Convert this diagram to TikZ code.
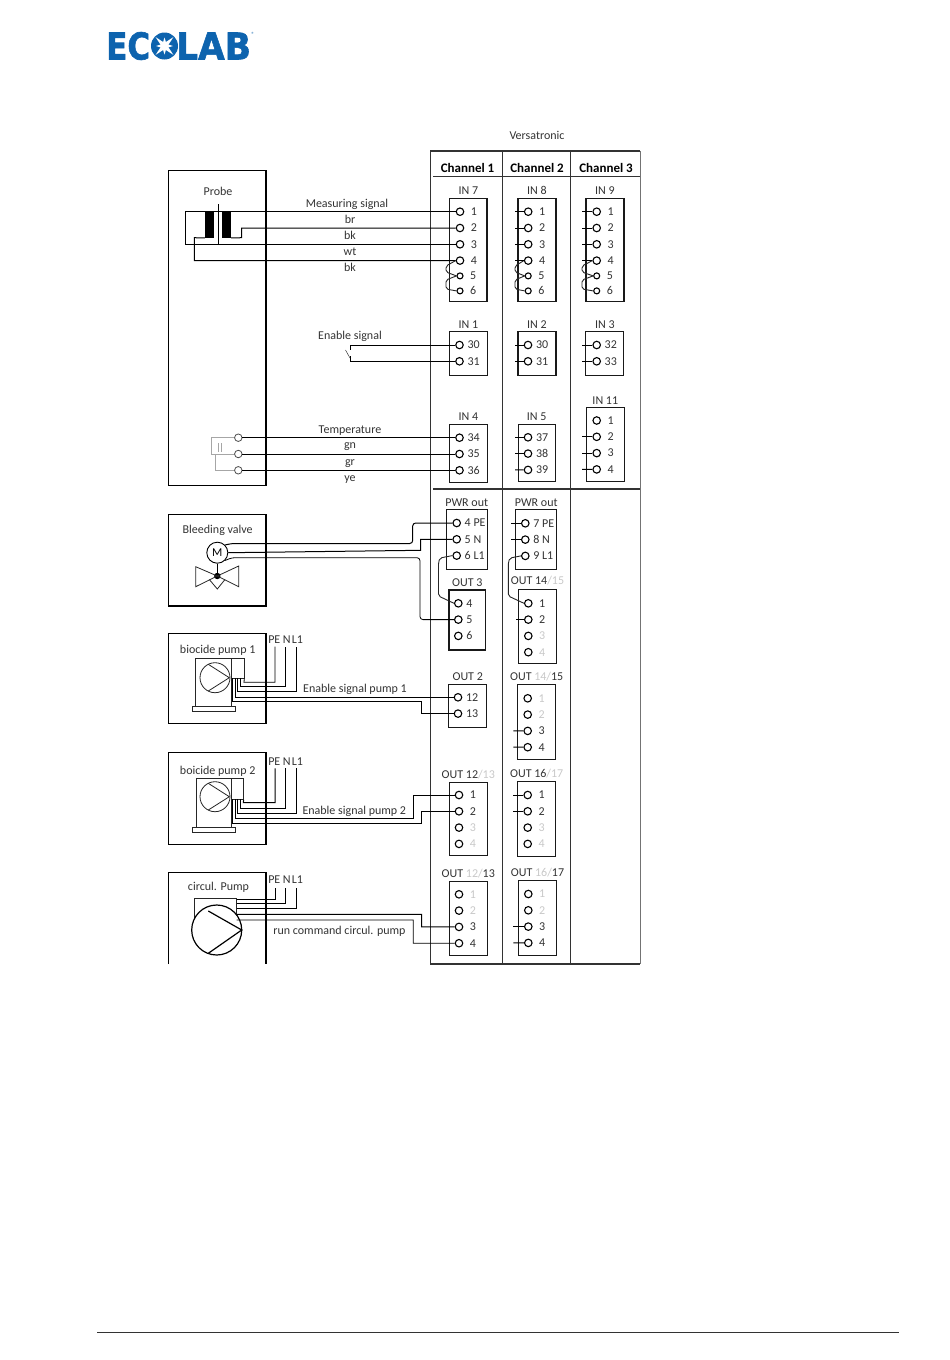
\documentclass[tikz,border=0pt]{standalone}
\usepackage{fontspec}
\setmainfont{Carlito}
\newfontfamily\logofont[BoldFeatures={FakeBold=1.6}]{DejaVu Sans}
\usepackage{xcolor}
\usepackage{tikz}
\usetikzlibrary{shapes.geometric, positioning}
\definecolor{inkgray}{HTML}{333333}
\definecolor{fadegray}{HTML}{C8C8C8}
\definecolor{logoblue}{HTML}{0D63AE}
\tikzstyle{every label} = [inner sep=0pt, text=inkgray]
\tikzstyle{txt} = [inner sep=0pt, text=inkgray, text height=10.5pt, text depth=2pt]
\tikzstyle{chan} = [inner sep=0pt, text=black, font=\bfseries\fontsize{13}{15}\selectfont]
\tikzstyle{equipbox} = [rectangle, draw=black, line width=1.2pt, inner sep=0pt]
\tikzstyle{unitbox} = [rectangle, draw=black!90, line width=1.1pt, inner sep=0pt]
\tikzstyle{term} = [circle, draw=black, line width=1.1pt, minimum size=7.5pt, inner sep=0pt]
\tikzstyle{wire} = [line width=1pt, black]
\tikzstyle{jumper} = [line width=0.9pt, black!85, rounded corners=2pt]
\tikzstyle{frame} = [line width=1.2pt, black!80]
\tikzstyle{logotext} = [inner sep=0pt, anchor=west, text=logoblue, font=\logofont\bfseries\fontsize{37}{37}\selectfont]

\begin{document}
\begin{tikzpicture}[x=1pt, y=-1pt, node distance=16.3pt, label distance=2.8pt, font=\fontsize{12}{14}\selectfont]
\useasboundingbox (0,0) rectangle (950,1360);

% Logo
\node (logoec) [logotext] at (106,46) {\scalebox{0.84}[1]{EC}};
\node (logolab) [logotext] at (176,46) {\scalebox{0.93}[1]{LAB}};
\node (logoball) [circle, fill=logoblue, minimum size=27pt, inner sep=0pt] at (164.5,46) {};
\node (logostar) [star, star points=4, star point ratio=4, fill=white, minimum size=25pt, inner sep=0pt, rotate=45] at (logoball) {};
\node (logospark) [star, star points=4, star point ratio=3, fill=white, minimum size=17pt, inner sep=0pt] at (logoball) {};
\node (logoreg) [inner sep=0pt, text=logoblue, font=\fontsize{6}{6}\selectfont] at (253,34) {\textregistered};

% Channel frame
\draw [frame] (430.3,964) -- (430.3,151) -- (640,151);
\draw [frame] (433,176.7) -- (640,176.7);
\draw [frame] (433,489) -- (640,489);
\draw [frame] (502.7,151) -- (502.7,964);
\draw [frame] (570.7,151) -- (570.7,964);
\draw [line width=0.7pt, black!55] (640,151) -- (640,964);
\draw [frame] (430.3,964) -- (640,964);
\draw [line width=0.8pt, black!80] (97,1332) -- (899,1332);

\node (versa) [txt] at (537,135) {Versatronic};
\node (chan1) [chan] at (467.5,167.5) {Channel 1};
\node (chan2) [chan] at (537,167.5) {Channel 2};
\node (chan3) [chan] at (606,167.5) {Channel 3};

% Equipment boxes
\node (probe) [equipbox, minimum width=97.7, minimum height=315] at (217.2,328.2) {};
\node (bleed) [equipbox, minimum width=97.7, minimum height=91.7] at (217.2,560.2) {};
\node (bio1) [equipbox, minimum width=97.7, minimum height=90] at (217.2,678.3) {};
\node (bio2) [equipbox, minimum width=97.7, minimum height=91.6] at (217.2,798.5) {};
\draw [equipbox] (168.3,964) -- (168.3,872.7) -- (266,872.7) -- (266,964);

\node (probet) [txt] at (218,191) {Probe};
\node (bleedt) [txt] at (217.7,529.5) {Bleeding valve};
\node (bio1t) [txt] at (217.7,649) {biocide pump 1};
\node (bio2t) [txt] at (217.7,770.5) {boicide pump 2};
\node (circt) [txt] at (218.5,886.5) {circul. Pump};

% Blocks, channel 1
\node (in7) [unitbox, minimum width=37.3, minimum height=103.7, label=above:IN 7] at (468.3,249.9) {};
\node (in1) [unitbox, minimum width=38, minimum height=43.6, label=above:IN 1] at (468.3,353.5) {};
\node (in4) [unitbox, minimum width=38, minimum height=58, label=above:IN 4] at (468.3,453.3) {};
\node (pwr1) [unitbox, minimum width=41.3, minimum height=59.6, label=above:PWR out] at (466.7,539.5) {};
\node (out3) [unitbox, minimum width=36.7, minimum height=60, label=above:OUT 3] at (467.3,620) {};
\node (out2) [unitbox, minimum width=38, minimum height=43.3, label=above:OUT 2] at (467.7,705.7) {};
\node (ola) [unitbox, minimum width=38, minimum height=73.4, label={above:OUT 12{\color{fadegray}/13}}] at (468.3,819) {};
\node (olb) [unitbox, minimum width=38, minimum height=74, label={above:OUT {\color{fadegray}12/}13}] at (468.3,918.7) {};

% Blocks, channel 2
\node (in8) [unitbox, minimum width=38, minimum height=103.7, label=above:IN 8] at (537,249.9) {};
\node (in2) [unitbox, minimum width=38, minimum height=43.6, label=above:IN 2] at (537,353.7) {};
\node (in5) [unitbox, minimum width=36.7, minimum height=57.7, label=above:IN 5] at (536.7,452.9) {};
\node (pwr2) [unitbox, minimum width=41, minimum height=59.6, label=above:PWR out] at (536.2,539.5) {};
\node (ora) [unitbox, minimum width=38.4, minimum height=74.3, label={above:OUT 14{\color{fadegray}/15}}] at (537.5,626.2) {};
\node (orb) [unitbox, minimum width=38, minimum height=75, label={above:OUT {\color{fadegray}14/}15}] at (536.7,721.8) {};
\node (orc) [unitbox, minimum width=38, minimum height=75, label={above:OUT 16{\color{fadegray}/17}}] at (536.7,819.2) {};
\node (ord) [unitbox, minimum width=38.4, minimum height=75, label={above:OUT {\color{fadegray}16/}17}] at (537.5,918.2) {};

% Blocks, channel 3
\node (in9) [unitbox, minimum width=38, minimum height=103.7, label=above:IN 9] at (605,249.9) {};
\node (in3) [unitbox, minimum width=38, minimum height=43.6, label=above:IN 3] at (604.9,353.7) {};
\node (in11) [unitbox, minimum width=38, minimum height=74, label=above:IN 11] at (605.3,444.7) {};

% Terminals with long numbers
\begin{scope}[label distance=3.5pt]
\node (in1x1) [term, label=right:30] at (459.5,345) {};
\node (in1x2) [term, below of=in1x1, label=right:31] {};
\node (in4x1) [term, label=right:34] at (459.5,437.7) {};
\node (in4x2) [term, below of=in4x1, label=right:35] {};
\node (in4x3) [term, below of=in4x2, label=right:36] {};
\node (pwr1x1) [term, label=right:4 PE] at (456.7,523) {};
\node (pwr1x2) [term, below of=pwr1x1, label=right:5 N] {};
\node (pwr1x3) [term, below of=pwr1x2, label=right:6 L1] {};
\node (out3x1) [term, label=right:4] at (458.3,603.3) {};
\node (out3x2) [term, below of=out3x1, label=right:5] {};
\node (out3x3) [term, below of=out3x2, label=right:6] {};
\node (out2x1) [term, label=right:12] at (458,697.3) {};
\node (out2x2) [term, below of=out2x1, label=right:13] {};
\node (in2x1) [term, label=right:30] at (528,345) {};
\node (in2x2) [term, below of=in2x1, label=right:31] {};
\node (in5x1) [term, label=right:37] at (528,437.3) {};
\node (in5x2) [term, below of=in5x1, label=right:38] {};
\node (in5x3) [term, below of=in5x2, label=right:39] {};
\node (pwr2x1) [term, label=right:7 PE] at (525.3,523.3) {};
\node (pwr2x2) [term, below of=pwr2x1, label=right:8 N] {};
\node (pwr2x3) [term, below of=pwr2x2, label=right:9 L1] {};
\node (in3x1) [term, label=right:32] at (596.7,345) {};
\node (in3x2) [term, below of=in3x1, label=right:33] {};
\end{scope}

% Terminals with one digit
\begin{scope}[label distance=6.3pt]
\node (in7x1) [term, label=right:1] at (460,211.7) {};
\node (in7x2) [term, below of=in7x1, label=right:2] {};
\node (in7x3) [term, below of=in7x2, label=right:3] {};
\node (in7x4) [term, below of=in7x3, label=right:4] {};
\node (in7x5) [term, below of=in7x4, yshift=1pt, minimum size=6pt, label=right:5] {};
\node (in7x6) [term, below of=in7x5, yshift=1.3pt, minimum size=6pt, label=right:6] {};
\node (olax1) [term, label=right:1] at (459,795) {};
\node (olax2) [term, below of=olax1, label=right:2] {};
\node (olax3) [term, below of=olax2, label={[text=fadegray]right:3}] {};
\node (olax4) [term, below of=olax3, label={[text=fadegray]right:4}] {};
\node (olbx1) [term, label={[text=fadegray]right:1}] at (459,894.3) {};
\node (olbx2) [term, below of=olbx1, label={[text=fadegray]right:2}] {};
\node (olbx3) [term, below of=olbx2, label=right:3] {};
\node (olbx4) [term, below of=olbx3, label=right:4] {};
\node (in8x1) [term, label=right:1] at (528.2,211.7) {};
\node (in8x2) [term, below of=in8x1, label=right:2] {};
\node (in8x3) [term, below of=in8x2, label=right:3] {};
\node (in8x4) [term, below of=in8x3, label=right:4] {};
\node (in8x5) [term, below of=in8x4, yshift=1pt, minimum size=6pt, label=right:5] {};
\node (in8x6) [term, below of=in8x5, yshift=1.3pt, minimum size=6pt, label=right:6] {};
\node (orax1) [term, label=right:1] at (528.3,603.3) {};
\node (orax2) [term, below of=orax1, label=right:2] {};
\node (orax3) [term, below of=orax2, label={[text=fadegray]right:3}] {};
\node (orax4) [term, below of=orax3, label={[text=fadegray]right:4}] {};
\node (orbx1) [term, label={[text=fadegray]right:1}] at (527.7,698.3) {};
\node (orbx2) [term, below of=orbx1, label={[text=fadegray]right:2}] {};
\node (orbx3) [term, below of=orbx2, label=right:3] {};
\node (orbx4) [term, below of=orbx3, label=right:4] {};
\node (orcx1) [term, label=right:1] at (527.7,795) {};
\node (orcx2) [term, below of=orcx1, label=right:2] {};
\node (orcx3) [term, below of=orcx2, label={[text=fadegray]right:3}] {};
\node (orcx4) [term, below of=orcx3, label={[text=fadegray]right:4}] {};
\node (ordx1) [term, label={[text=fadegray]right:1}] at (528.3,894) {};
\node (ordx2) [term, below of=ordx1, label={[text=fadegray]right:2}] {};
\node (ordx3) [term, below of=ordx2, label=right:3] {};
\node (ordx4) [term, below of=ordx3, label=right:4] {};
\node (in9x1) [term, label=right:1] at (596.7,211.7) {};
\node (in9x2) [term, below of=in9x1, label=right:2] {};
\node (in9x3) [term, below of=in9x2, label=right:3] {};
\node (in9x4) [term, below of=in9x3, label=right:4] {};
\node (in9x5) [term, below of=in9x4, yshift=1pt, minimum size=6pt, label=right:5] {};
\node (in9x6) [term, below of=in9x5, yshift=1.3pt, minimum size=6pt, label=right:6] {};
\node (in11x1) [term, label=right:1] at (596.7,420.5) {};
\node (in11x2) [term, below of=in11x1, label=right:2] {};
\node (in11x3) [term, below of=in11x2, label=right:3] {};
\node (in11x4) [term, below of=in11x3, label=right:4] {};
\end{scope}

% Probe
\node (core1) [rectangle, fill=black, minimum width=9, minimum height=26.7, inner sep=0pt] at (209.5,224.4) {};
\node (core2) [rectangle, fill=black, minimum width=9, minimum height=26.7, inner sep=0pt] at (226.5,224.4) {};
\coordinate (coiltop) at (185,211.7);
\coordinate (coilbot) at (185,244.3);
\draw [wire] (218.3,204) -- (218.3,244.3);
\draw [wire] (coilbot) -- (coiltop) -- (in7x1);
\draw [wire] (coilbot) -- (in7x3);
\draw [wire] (core2.south east) -- (241.7,237.7) -- (241.7,228) -- (in7x2);
\draw [wire] (core1.south west) -- (194.3,237.7) -- (194.3,260.6) -- (in7x4);
\node (lblmeas) [txt] at (347,203) {Measuring signal};
\node (lblbr) [txt] at (350,219) {br};
\node (lblbk) [txt] at (350,235.5) {bk};
\node (lblwt) [txt] at (350,251.5) {wt};
\node (lblbkb) [txt] at (350,267.7) {bk};

% Enable signal
\coordinate (swtop) at (350,345);
\coordinate (swbot) at (350,361.3);
\draw [wire, line width=0.8pt] (in1x1) -- (swtop) -- (350,350);
\draw [wire, line width=0.8pt] (in1x2) -- (swbot) -- (350,356);
\draw [line width=0.5pt, black!80] (345.5,350) -- (350,358);
\node (lblen) [txt] at (350,335) {Enable signal};

% Temperature
\node (tmp1) [term, draw=black!70, line width=0.8pt] at (238.3,437.7) {};
\node (tmp2) [term, draw=black!70, line width=0.8pt, below of=tmp1] {};
\node (tmp3) [term, draw=black!70, line width=0.8pt, below of=tmp2] {};
\draw [wire] (tmp1) -- (in4x1);
\draw [wire] (tmp2) -- (in4x2);
\draw [wire] (tmp3) -- (in4x3);
\draw [line width=0.5pt, black!35] (tmp1) -- (211.7,437.7) -- (211.7,454) -- (tmp2);
\draw [line width=0.5pt, black!35] (tmp3) -- (215,470.3) -- (215,454);
\draw [line width=0.5pt, black!35] (218,443) -- (218,452) (221,443) -- (221,452);
\node (lbltemp) [txt] at (350,429.5) {Temperature};
\node (lblgn) [txt] at (350,444) {gn};
\node (lblgr) [txt] at (350,461) {gr};
\node (lblye) [txt] at (350,477) {ye};

% Bleeding valve
\node (motor) [circle, draw=black, line width=0.9pt, minimum size=21pt, inner sep=0pt, fill=white] at (217.3,552.7) {M};
\fill [black] (217.3,576) circle [radius=3.2pt];
\draw [line width=0.9pt] (motor.south) -- (217.3,576);
\draw [line width=0.8pt, black!85] (217.3,576) -- (195.7,566.7) -- (195.7,586.7) -- cycle;
\draw [line width=0.8pt, black!85] (217.3,576) -- (238.7,566) -- (238.7,586.7) -- cycle;
\draw [line width=0.8pt, black!85] (209.3,579.5) -- (217.3,589) -- (225,579.5);
\draw [wire, rounded corners=3pt] (motor.north east) -- (232,543.5) -- (412.7,543.5) -- (412.7,523) -- (pwr1x1);
\draw [wire] (motor.east) -- (420.7,550.3) -- (420.7,539.3) -- (pwr1x2);
\draw [wire, rounded corners=3pt, line width=0.8pt] (motor.south east) -- (232,557.7) -- (420,557.7) -- (420,619.6) -- (out3x2);
\draw [jumper] (pwr1x3.west) -- (440,558) -- (438.5,562) -- (438.5,596) -- (out3x1.west);

% Biocide pump 1
\node (body1) [rectangle, draw=black!85, line width=0.8pt, minimum width=36, minimum height=48.4, inner sep=0pt] at (213.7,682.5) {};
\node (base1) [rectangle, draw=black!85, line width=0.8pt, minimum width=42.6, minimum height=4.3, inner sep=0pt] at (214,708.9) {};
\node (ctrl1) [rectangle, draw=black!85, line width=0.8pt, minimum width=12.3, minimum height=20, inner sep=0pt] at (237.8,668.3) {};
\draw [line width=0.8pt, black!85] (215,677.7) circle [radius=15pt];
\draw [line width=0.8pt, black!85] (208.3,664.3) -- (229.3,677.7) -- (208.3,691);
\coordinate (pe1) at (275,646.7);
\coordinate (n1) at (285,646.7);
\coordinate (lone1) at (296,646.7);
\draw [wire, line width=0.8pt] (ctrl1.south east) -- (243.9,682.3) -| (pe1);
\draw [wire, line width=0.8pt] (240.7,678.3) -- (240.7,686.7) -| (n1);
\draw [wire, line width=0.8pt] (237.3,678.3) -- (237.3,691.3) -| (lone1);
\draw [wire] (235.3,678.3) -- (235.3,697.3) -- (out2x1);
\draw [wire, line width=0.8pt] (232.7,678.3) -- (232.7,701.7) -- (421.7,701.7) -- (421.7,713.6) -- (out2x2);
\node (lblpea) [txt] at (274.3,639.5) {PE};
\node (lblna) [txt] at (286.7,639.5) {N};
\node (lblla) [txt] at (297.5,639.5) {L1};
\node (lblena) [txt] at (355,688.3) {Enable signal pump 1};

% Boicide pump 2
\node (body2) [rectangle, draw=black!85, line width=0.8pt, minimum width=35.7, minimum height=49.4, inner sep=0pt] at (213.8,803) {};
\node (base2) [rectangle, draw=black!85, line width=0.8pt, minimum width=42.6, minimum height=4.6, inner sep=0pt] at (214,830) {};
\node (ctrl2) [rectangle, draw=black!85, line width=0.8pt, minimum width=11.6, minimum height=21, inner sep=0pt] at (237.5,788.8) {};
\draw [line width=0.8pt, black!85] (215,796.7) circle [radius=15pt];
\draw [line width=0.8pt, black!85] (208.3,783.3) -- (229.3,796.7) -- (208.3,810);
\coordinate (pe2) at (275,768.3);
\coordinate (n2) at (285,768.3);
\coordinate (lone2) at (296,768.3);
\draw [wire] (ctrl2.south east) -- (243.3,802.7) -| (pe2);
\draw [wire] (240,799.3) -- (240,808.3) -| (n2);
\draw [wire, line width=0.8pt] (237.7,799.3) -- (237.7,813.3) -| (lone2);
\draw [wire, line width=0.8pt] (235.3,799.3) -- (235.3,818.3) -- (413.3,818.3) -- (413.3,795) -- (olax1);
\draw [wire] (232.7,799.3) -- (232.7,823.3) -- (421.7,823.3) -- (421.7,811.3) -- (olax2);
\node (lblpeb) [txt] at (274.3,761) {PE};
\node (lblnb) [txt] at (286.7,761) {N};
\node (lbllb) [txt] at (297.5,761) {L1};
\node (lblenb) [txt] at (354.3,810) {Enable signal pump 2};

% Circulation pump
\node (body3) [rectangle, draw=black!85, line width=0.8pt, minimum width=42.4, minimum height=26, inner sep=0pt] at (215.5,911.3) {};
\node (wheel) [circle, draw=black, line width=1.2pt, fill=white, minimum size=50pt, inner sep=0pt] at (216.7,930) {};
\draw [line width=1.2pt] (208.3,911) -- (241.7,930) -- (208.3,953.3);
\coordinate (pe3) at (275,887.7);
\coordinate (n3) at (285,887.7);
\coordinate (lone3) at (296,887.7);
\draw [wire, line width=0.8pt] (236.7,899.3) -| (pe3);
\draw [wire, line width=0.8pt] (236.7,903.3) -| (n3);
\draw [wire, line width=0.8pt] (236.7,908.7) -| (lone3);
\draw [wire] (236.7,914.3) -- (421.7,914.3) -- (421.7,926.9) -- (olbx3);
\draw [wire, line width=0.8pt] (236.7,920) -- (413.3,920) -- (413.3,943.2) -- (olbx4);
\node (lblpec) [txt] at (274.3,879.5) {PE};
\node (lblnc) [txt] at (286.7,879.5) {N};
\node (lbllc) [txt] at (297.5,879.5) {L1};
\node (lblrun) [txt] at (339.5,930) {run command circul. pump};

% Jumpers on IN blocks
\draw [jumper] (in7x4.west) -- (446,266) -- (446,272) -- (in7x5.west);
\draw [jumper] (in7x5.west) -- (446,280) -- (446,289) -- (in7x6.west);
\draw [jumper] (in8x4.west) -- (515,266) -- (515,272) -- (in8x5.west);
\draw [jumper] (in8x5.west) -- (515,280) -- (515,289) -- (in8x6.west);
\draw [jumper] (in9x4.west) -- (582,266) -- (582,272) -- (in9x5.west);
\draw [jumper] (in9x5.west) -- (582,280) -- (582,289) -- (in9x6.west);
\draw [jumper] (pwr2x3.west) -- (510,558) -- (508.3,562) -- (508.3,596) -- (orax1.west);

% Open wire stubs, channel 2
\draw [wire] (in8x1.west) -- (515,211.7);
\draw [wire] (in8x2.west) -- (515,228);
\draw [wire] (in8x3.west) -- (515,244.3);
\draw [wire] (in8x4.west) -- (515,260.6);
\draw [wire] (in2x1.west) -- (515,345);
\draw [wire] (in2x2.west) -- (515,361.3);
\draw [wire] (in5x1.west) -- (515,437.3);
\draw [wire] (in5x2.west) -- (515,453.6);
\draw [wire] (in5x3.west) -- (515,469.9);
\draw [wire] (pwr2x1.west) -- (511,523.3);
\draw [wire] (pwr2x2.west) -- (511,539.6);
\draw [wire] (orax2.west) -- (515.7,619.6);
\draw [wire] (orbx3.west) -- (513.3,730.9);
\draw [wire] (orbx4.west) -- (513.3,747.2);
\draw [wire] (orcx1.west) -- (513.3,795);
\draw [wire] (orcx2.west) -- (513.3,811.3);
\draw [wire] (ordx3.west) -- (513.3,926.6);
\draw [wire] (ordx4.west) -- (513.3,942.9);

% Open wire stubs, channel 3
\draw [wire] (in9x1.west) -- (582,211.7);
\draw [wire] (in9x2.west) -- (582,228);
\draw [wire] (in9x3.west) -- (582,244.3);
\draw [wire] (in9x4.west) -- (582,260.6);
\draw [wire] (in3x1.west) -- (582,345);
\draw [wire] (in3x2.west) -- (582,361.3);
\draw [wire] (in11x2.west) -- (582,436.8);
\draw [wire] (in11x3.west) -- (582,453.1);
\draw [wire] (in11x4.west) -- (582,469.4);

\end{tikzpicture}
\end{document}
